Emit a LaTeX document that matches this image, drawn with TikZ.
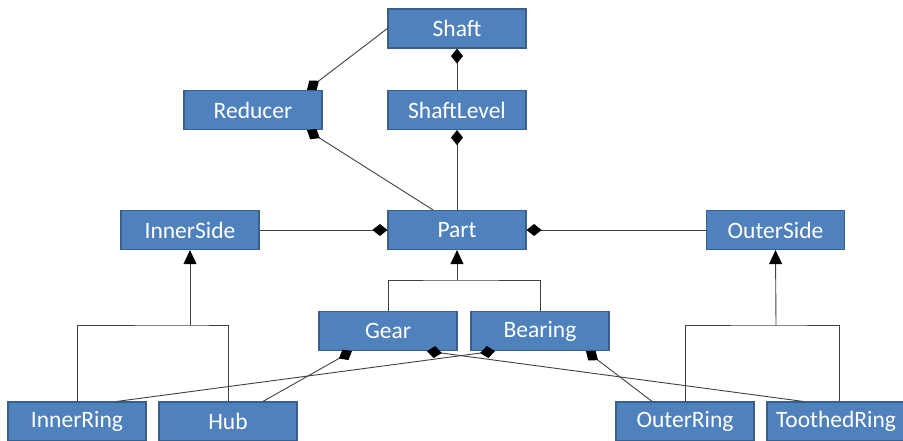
\documentclass[tikz,border=0pt]{standalone}
\usepackage{fontspec}
\setmainfont{Carlito}
\usetikzlibrary{arrows.meta,calc}
\definecolor{boxfill}{HTML}{4F81BD}
\definecolor{boxline}{HTML}{3A5F8B}
\definecolor{conn}{HTML}{404040}
\begin{document}
\begin{tikzpicture}[x=1pt,y=-1pt,
  box/.style={draw=boxline,line width=1.2pt,fill=boxfill,text=white,
    minimum width=138pt,minimum height=39pt,inner sep=0pt,
    font=\fontsize{23.5}{26}\selectfont},
  link/.style={draw=conn,line width=0.9pt},
  comp/.style={link,{Diamond[length=15pt,width=12pt,color=black]}-},
  inh/.style={link,-{Triangle[length=14pt,width=13pt,color=black]}}]
\useasboundingbox (0,0) rectangle (903,441);
\node[box] (shaft) at (457,28.5) {Shaft};
\node[box] (reducer) at (253,110) {Reducer};
\node[box] (shaftlevel) at (457,110) {ShaftLevel};
\node[box] (innerside) at (190,230) {InnerSide};
\node[box] (part) at (457,230) {Part};
\node[box] (outerside) at (775.5,230) {OuterSide};
\node[box] (gear) at (388,331) {Gear};
\node[box] (bearing) at (540,331) {Bearing};
\node[box] (innerring) at (77,421.5) {InnerRing};
\node[box] (hub) at (228,421.5) {Hub};
\node[box] (outerring) at (685,421.5) {OuterRing};
\node[box] (toothed) at (836,421.5) {ToothedRing};
\coordinate (j1) at (457,280);
\coordinate (j2) at (190,325);
\coordinate (j3) at (776,325);
% compositions
\draw[comp] ([xshift=54pt]reducer.north) -- (shaft.west);
\draw[comp] (shaft.south) -- (shaftlevel.north);
\draw[comp] ([xshift=54pt]reducer.south) -- ([xshift=-24pt]part.north);
\draw[comp] (shaftlevel.south) -- (part.north);
\draw[comp] (part.west) -- (innerside.east);
\draw[comp] (part.east) -- (outerside.west);
\draw[comp] ([xshift=-36pt]gear.south) -- ([xshift=35pt]hub.north);
\draw[comp] ([xshift=39pt]gear.south) -- ([xshift=-33pt]toothed.north);
\draw[comp] ([xshift=-45pt]bearing.south) -- ([xshift=40pt]innerring.north);
\draw[comp] ([xshift=46pt]bearing.south) -- ([xshift=-33pt]outerring.north);
% generalisations
\draw[link] (gear.north) |- (j1) -| (bearing.north);
\draw[inh] (j1) -- (part.south);
\draw[link] (innerring.north) |- (j2) -| (hub.north);
\draw[inh] (j2) -- (innerside.south);
\draw[link] (outerring.north) |- (j3) -| ([xshift=3pt]toothed.north);
\draw[inh] (j3) -- (outerside.south);
\end{tikzpicture}
\end{document}
